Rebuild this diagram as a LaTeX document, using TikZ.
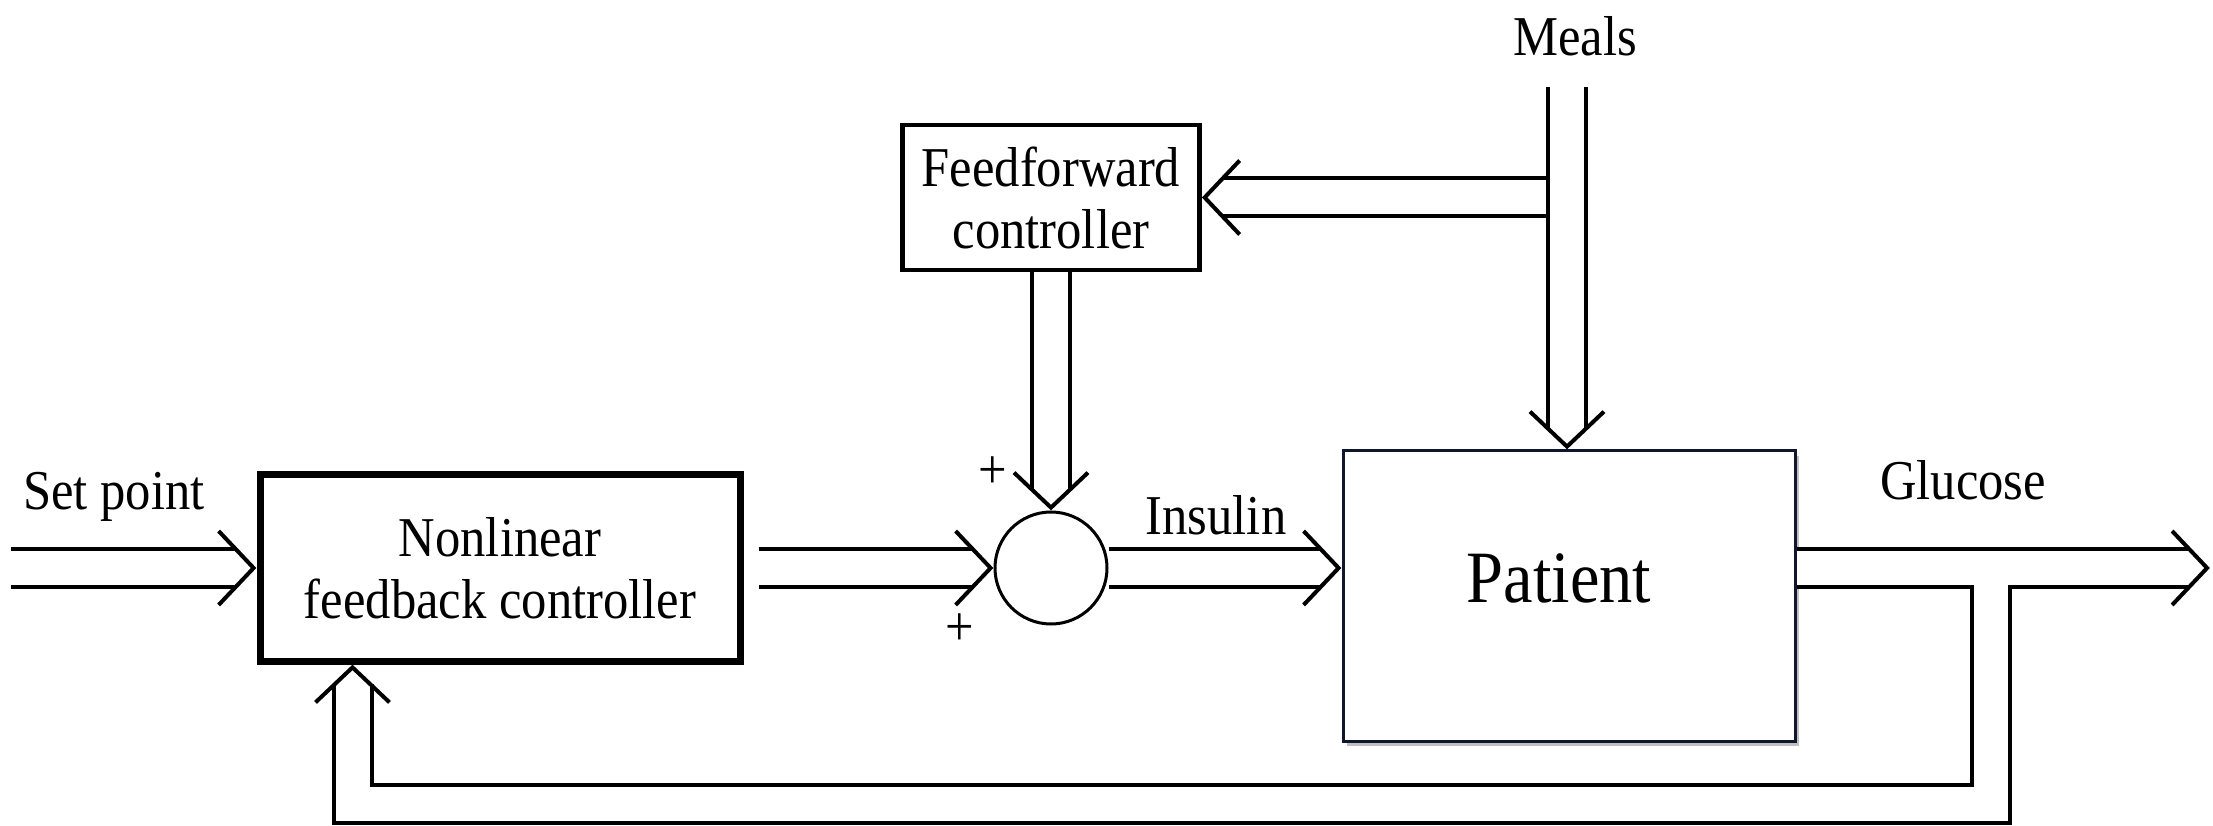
\documentclass[tikz,border=0pt]{standalone}
\usepackage{fontspec}
\setmainfont{Liberation Serif}[FakeStretch=0.9]
\usepackage{tikz}
\usetikzlibrary{arrows.meta, positioning, calc, shadows}
\definecolor{patline}{RGB}{15,22,45}

% open V head for the double signal lines
\pgfdeclarearrow{
  name = Vhead,
  setup code = {
    \pgfarrowssettipend{0.029cm}
    \pgfarrowssetlineend{-0.17cm}
    \pgfarrowssetbackend{-0.35cm}
    \pgfarrowssetvisualbackend{-0.35cm}
    \pgfarrowshullpoint{0.029cm}{0pt}
    \pgfarrowsupperhullpoint{-0.35cm}{0.37cm}
  },
  drawing code = {
    \pgfsetdash{}{0pt}
    \pgfsetlinewidth{0.04cm}
    \pgfsetbuttcap
    \pgfsetmiterjoin
    \pgfpathmoveto{\pgfpoint{-0.35cm}{0.37cm}}
    \pgfpathlineto{\pgfpointorigin}
    \pgfpathlineto{\pgfpoint{-0.35cm}{-0.37cm}}
    \pgfusepathqstroke
  }
}

\begin{document}
\begin{tikzpicture}[
    font=\fontsize{16}{17.6}\selectfont,
    ctrl/.style={rectangle, draw, line width=0.07cm, minimum width=4.8cm, minimum height=1.86cm, align=center, inner sep=0pt},
    ffbox/.style={rectangle, draw, line width=0.045cm, minimum width=2.97cm, minimum height=1.45cm, align=center, inner sep=0pt},
    plant/.style={rectangle, draw=patline, line width=0.03cm, fill=white, minimum width=4.52cm, minimum height=2.9cm,
        drop shadow={shadow xshift=0.04cm, shadow yshift=-0.05cm, opacity=0.5}},
    sumnode/.style={circle, draw, line width=0.03cm, minimum size=1.12cm, inner sep=0pt},
    pipe/.style={double, line width=0.04cm, double distance=0.34cm, -Vhead},
  ]
  \useasboundingbox (0,0) rectangle (22.13,-8.26);

  % blocks
  \node[ctrl] (nlc) at (5.0,-5.68) {Nonlinear\\feedback controller};
  \node[sumnode, right=2.5cm of nlc] (sum) {};
  \node[ffbox, above=2.38cm of sum] (ffc) {Feedforward\\controller};
  \node[plant, right=2.33cm of sum, yshift=-0.28cm] (pat) {};
  \node[font=\fontsize{21}{25}\selectfont] (pattxt) at (15.59,-5.78) {Patient};

  % labels
  \node (setpt) at (1.14,-4.97) {Set point};
  \node (insulin) at (12.16,-5.15) {Insulin};
  \node (glucose) at (19.63,-4.80) {Glucose};
  \node (meals) at (15.75,-0.36) {Meals};
  \node (plA) at (9.93,-4.73) {+};
  \node (plB) at (9.60,-6.30) {+};

  % signal lines
  \coordinate (spin) at (0.11,-5.68);
  \coordinate (mtop) at (15.67,-0.87);
  \coordinate (mbr) at (15.48,-1.975);
  \coordinate (gout) at (22.10,-5.68);
  \coordinate (fbr) at (19.91,-5.85);
  \coordinate (fbin) at (3.525,-8.04);

  \draw[pipe] (spin) -- (nlc.west);
  \draw[pipe, shorten <=0.15cm] (nlc.east) -- (sum.west);
  \draw[pipe] (ffc.south) -- (sum.north);
  \draw[pipe] (mbr) -- (mbr -| ffc.east);
  \draw[pipe] (mtop) -- (mtop |- pat.north);
  \draw[pipe] (sum.east) -- (sum.east -| pat.west);
  \draw[pipe] (sum.east -| pat.east) -- (gout);
  \draw[pipe] (fbr) |- (fbin) -- (fbin |- nlc.south);
\end{tikzpicture}
\end{document}
